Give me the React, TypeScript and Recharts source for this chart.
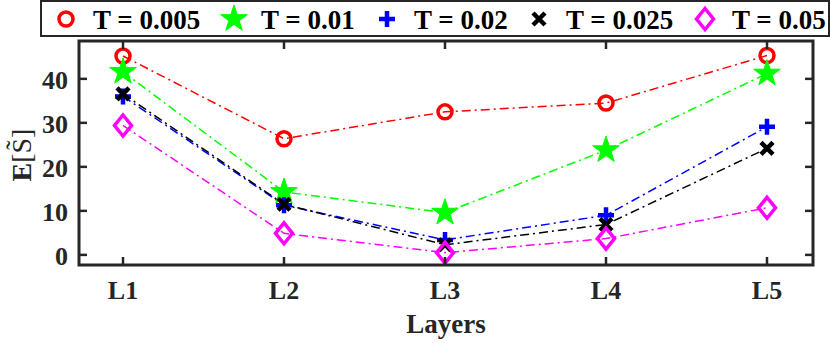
import { Line, LineChart, XAxis, YAxis } from 'recharts';

const layers = ['L1', 'L2', 'L3', 'L4', 'L5'];
const t005 = [45.2, 26.4, 32.5, 34.5, 45.3];
const t01 = [41.6, 14.3, 9.6, 23.8, 41.2];
const t02 = [36.0, 11.3, 3.4, 9.0, 29.1];
const t025 = [36.6, 11.5, 2.3, 6.9, 24.2];
const t05 = [29.4, 4.9, 0.5, 3.7, 10.7];
const yTicks = [0, 10, 20, 30, 40];

const data = layers.map((name, i) => ({
    name,
    t005: t005[i],
    t01: t01[i],
    t02: t02[i],
    t025: t025[i],
    t05: t05[i],
}));

const FONT = '"Liberation Serif", "Times New Roman", serif';
const FRAME = '#262626';
const Y_MIN = -2.3;
const Y_MAX = 48.6;

// plot box (matches the chart margins / axis sizes below)
const BOX = { left: 79, right: 813, top: 41, bottom: 265 };
const PAD = { left: 44, right: 46 };

const Marker = ({ kind, cx, cy }: { kind: string; cx: number; cy: number }) => {
    if (kind === 'circle') {
        return <circle cx={cx} cy={cy} r={7} fill="none" stroke="#ff0000" strokeWidth={3.5} />;
    }
    if (kind === 'star') {
        const pts: string[] = [];
        for (let k = 0; k < 10; k++) {
            const r = k % 2 === 0 ? 14 : 5.4;
            const a = -Math.PI / 2 + (k * Math.PI) / 5;
            pts.push(`${cx + r * Math.cos(a)},${cy + r * Math.sin(a)}`);
        }
        return <polygon points={pts.join(' ')} fill="#00ff00" stroke="#00ff00" strokeWidth={1} />;
    }
    if (kind === 'plus') {
        return (
            <path d={`M${cx - 8},${cy}H${cx + 8}M${cx},${cy - 8}V${cy + 8}`} stroke="#0000ff" strokeWidth={4.5} />
        );
    }
    if (kind === 'cross') {
        return (
            <path
                d={`M${cx - 6},${cy - 6}L${cx + 6},${cy + 6}M${cx - 6},${cy + 6}L${cx + 6},${cy - 6}`}
                stroke="#000"
                strokeWidth={4.5}
            />
        );
    }
    return (
        <path
            d={`M${cx},${cy - 10.5}L${cx + 8.5},${cy}L${cx},${cy + 10.5}L${cx - 8.5},${cy}Z`}
            fill="none"
            stroke="#ff00ff"
            strokeWidth={3.5}
        />
    );
};

const series = [
    { key: 't005', label: 'T = 0.005', color: '#ff0000', marker: 'circle' },
    { key: 't01', label: 'T = 0.01', color: '#00ff00', marker: 'star' },
    { key: 't02', label: 'T = 0.02', color: '#0000ff', marker: 'plus' },
    { key: 't025', label: 'T = 0.025', color: '#000000', marker: 'cross' },
    { key: 't05', label: 'T = 0.05', color: '#ff00ff', marker: 'diamond' },
];

const LeftTick = ({ x, y, payload }: any) => (
    <text x={x - 11} y={y + 10} textAnchor="end" fontFamily={FONT} fontWeight="bold" fontSize={26} fill={FRAME}>
        {payload.value}
    </text>
);

const BottomTick = ({ x, y, payload }: any) => (
    <text x={x} y={y + 34} textAnchor="middle" fontFamily={FONT} fontWeight="bold" fontSize={26} fill={FRAME}>
        {payload.value}
    </text>
);

// matlab-style box with inward ticks on all four sides
const Frame = () => {
    const yPos = (v: number) => BOX.bottom - ((v - Y_MIN) / (Y_MAX - Y_MIN)) * (BOX.bottom - BOX.top);
    const step = (BOX.right - BOX.left - PAD.left - PAD.right) / (layers.length - 1);
    const xPos = (i: number) => BOX.left + PAD.left + i * step;
    return (
        <svg width={830} height={343} style={{ position: 'absolute', left: 0, top: 0, pointerEvents: 'none' }}>
            <rect
                x={BOX.left}
                y={BOX.top}
                width={BOX.right - BOX.left}
                height={BOX.bottom - BOX.top}
                fill="none"
                stroke={FRAME}
                strokeWidth={3}
            />
            {yTicks.map((v) => (
                <g key={`y${v}`}>
                    <path d={`M${BOX.left},${yPos(v)}h8`} stroke={FRAME} strokeWidth={2.5} />
                    <path d={`M${BOX.right},${yPos(v)}h-8`} stroke={FRAME} strokeWidth={2.5} />
                </g>
            ))}
            {layers.map((l, i) => (
                <g key={l}>
                    <path d={`M${xPos(i)},${BOX.bottom}v-8`} stroke={FRAME} strokeWidth={2.5} />
                    <path d={`M${xPos(i)},${BOX.top}v8`} stroke={FRAME} strokeWidth={2.5} />
                </g>
            ))}
        </svg>
    );
};

const legendPos = [66, 234, 387, 539, 705];

const LegendBox = () => (
    <svg width={790} height={38} style={{ position: 'absolute', left: 40, top: 0 }}>
        <rect x={1} y={1} width={788} height={35} fill="#fff" stroke={FRAME} strokeWidth={2} />
        {series.map((s, i) => (
            <g key={s.key}>
                <Marker kind={s.marker} cx={legendPos[i] - 40} cy={19} />
                <text x={legendPos[i] - 40 + 27} y={29} fontFamily={FONT} fontWeight="bold" fontSize={27} fill="#000">
                    {s.label}
                </text>
            </g>
        ))}
    </svg>
);

const YLabel = () => (
    <svg width={60} height={343} style={{ position: 'absolute', left: 0, top: 0 }}>
        <text transform="translate(31,155) rotate(-90)" textAnchor="middle" fontFamily={FONT} fontSize={28} fill={FRAME}>
            <tspan fontWeight="bold">E</tspan>
            <tspan>[S{'\u0303'}]</tspan>
        </text>
    </svg>
);

export default function App() {
    return (
        <div style={{ position: 'absolute', left: 0, top: 0, width: 830, height: 343, background: '#fff' }}>
            <LineChart
                width={830}
                height={343}
                data={data}
                margin={{ top: BOX.top, right: 830 - BOX.right, bottom: 0, left: 0 }}
            >
                <XAxis
                    dataKey="name"
                    height={343 - BOX.bottom}
                    padding={PAD}
                    axisLine={false}
                    tickLine={false}
                    tickSize={0}
                    tickMargin={0}
                    tick={<BottomTick />}
                    label={{
                        value: 'Layers',
                        position: 'insideBottom',
                        offset: 10,
                        fontFamily: FONT,
                        fontWeight: 'bold',
                        fontSize: 27,
                        fill: FRAME,
                    }}
                />
                <YAxis
                    width={BOX.left}
                    domain={[Y_MIN, Y_MAX]}
                    ticks={yTicks}
                    axisLine={false}
                    tickLine={false}
                    tickSize={0}
                    tickMargin={0}
                    tick={<LeftTick />}
                />
                {series.map((s) => (
                    <Line
                        key={s.key}
                        dataKey={s.key}
                        stroke={s.color}
                        strokeWidth={1.5}
                        strokeDasharray="9 4 2 4"
                        isAnimationActive={false}
                        dot={(p: any) => <Marker key={`${s.key}-${p.index}`} kind={s.marker} cx={p.cx} cy={p.cy} />}
                        activeDot={false}
                    />
                ))}
            </LineChart>
            <Frame />
            <LegendBox />
            <YLabel />
        </div>
    );
}
